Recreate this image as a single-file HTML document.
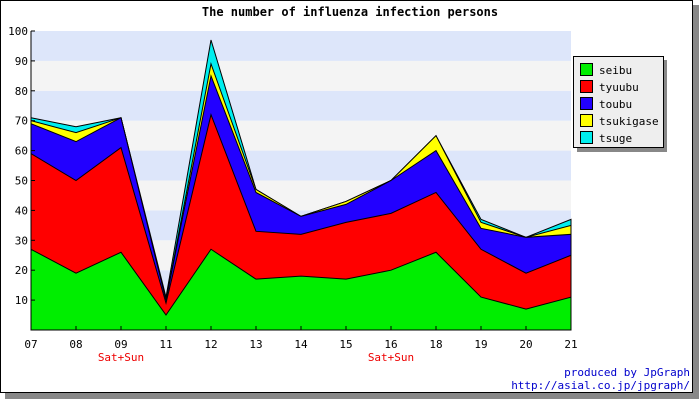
<!DOCTYPE html>
<html><head><meta charset="utf-8"><style>
body{margin:0;background:#fff}
svg text{font-family:"DejaVu Sans Mono","Liberation Mono",monospace}
</style></head><body>
<svg width="700" height="400" xmlns="http://www.w3.org/2000/svg">
<rect x="5" y="5" width="694" height="394" fill="#888"/>
<rect x="0.5" y="0.5" width="692" height="392" fill="#fff" stroke="#000"/>
<text x="350" y="16" text-anchor="middle" font-size="12" font-weight="bold">The number of influenza infection persons</text>
<g id="bands"></g><g id="areas"></g><g id="axes"></g>
<g>
<rect x="577" y="60" width="90" height="92" fill="#888"/>
<rect x="573.5" y="56.5" width="90" height="91" fill="#eee" stroke="#000"/>
<g id="legend"></g></g>
<text x="690" y="376" text-anchor="end" font-size="11" fill="#00c">produced by JpGraph</text>
<text x="690" y="389" text-anchor="end" font-size="11" fill="#00c">http://asial.co.jp/jpgraph/</text>
</svg>
<script>
const categories=["07","08","09","11","12","13","14","15","16","18","19","20","21"];
const seibu=[27,19,26,5,27,17,18,17,20,26,11,7,11];
const tyuubu=[32,31,35,4,45,16,14,19,19,20,16,12,14];
const toubu=[10,13,10,1,13,13,6,6,11,14,7,12,7];
const tsukigase=[1,3,0,0,4,1,0,1,0,5,2,0,3];
const tsuge=[1,2,0,1,8,0,0,0,0,0,1,0,2];
const seriesNames=["seibu","tyuubu","toubu","tsukigase","tsuge"];
const yTicks=[10,20,30,40,50,60,70,80,90,100];
const NS="http://www.w3.org/2000/svg";
const X0=31,X1=571,Y0=330,Y1=31;
const xs=i=>X0+(X1-X0)*i/(categories.length-1);
const ys=v=>Y0-(Y0-Y1)*v/100;
function mk(t,a,p){const e=document.createElementNS(NS,t);for(const k in a)e.setAttribute(k,a[k]);p.appendChild(e);return e;}
const bands=document.getElementById('bands');
for(let v=0;v<100;v+=10){
 const r=mk('rect',{x:X0,y:ys(v+10),width:X1-X0,height:ys(v)-ys(v+10),fill:(v/10)%2?'#dde6fa':'#f4f4f4'},bands);
 
 
}
const series=[seibu,tyuubu,toubu,tsukigase,tsuge];
const colors=["#00ee00","#ff0000","#2200ff","#ffff00","#00eeee"];
const areas=document.getElementById('areas');
let cum=categories.map(()=>0);
const layers=series.map(s=>{cum=cum.map((c,i)=>c+s[i]);return cum.slice();});
for(let k=layers.length-1;k>=0;k--){
 let d='M'+xs(0)+','+Y0;
 layers[k].forEach((v,i)=>d+=' L'+xs(i)+','+ys(v));
 d+=' L'+xs(categories.length-1)+','+Y0+' Z';
 const p=mk('path',{d:d,fill:colors[k],stroke:'#000','stroke-width':1},areas);
 
 
}
const axes=document.getElementById('axes');
mk('line',{x1:X0,y1:Y1,x2:X0,y2:Y0,stroke:'#000'},axes);
mk('line',{x1:X0,y1:Y0,x2:X1,y2:Y0,stroke:'#000'},axes);
yTicks.forEach(v=>{
 mk('line',{x1:X0,y1:ys(v),x2:X0+4,y2:ys(v),stroke:'#000'},axes);
 const t=mk('text',{x:X0-3,y:ys(v)+4,'text-anchor':'end','font-size':11},axes);
 t.textContent=v;
 
 
});
categories.forEach((c,i)=>{
 mk('line',{x1:xs(i),y1:Y0,x2:xs(i),y2:Y0-4,stroke:'#000'},axes);
 const t=mk('text',{x:xs(i),y:Y0+18,'text-anchor':'middle','font-size':11},axes);
 t.textContent=c;
 
 
 if(c==="09"||c==="16"){
  const s=mk('text',{x:xs(i),y:Y0+31,'text-anchor':'middle','font-size':11,fill:'#e00'},axes);
  s.textContent="Sat+Sun";
  
  
 }
});
const lg=document.getElementById('legend');
seriesNames.forEach((n,k)=>{
 const y=63+k*17;
 const r=mk('rect',{x:580.5,y:y+0.5,width:12,height:12,fill:colors[k],stroke:'#000'},lg);
 
 
 const t=mk('text',{x:599,y:y+11,'font-size':11},lg);
 t.textContent=n;
 
 
});
</script>
</body></html>
